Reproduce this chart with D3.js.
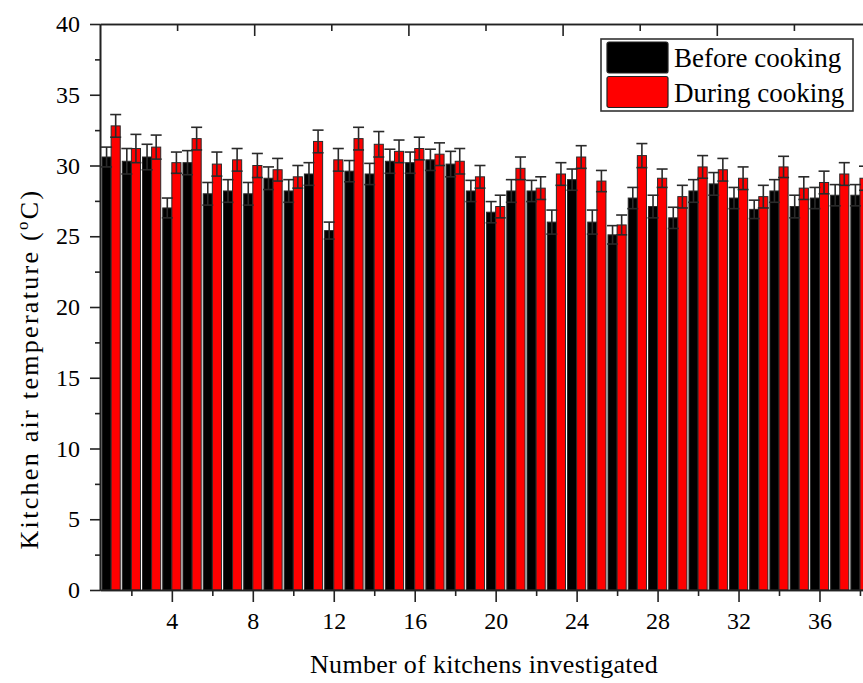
<!DOCTYPE html>
<html>
<head>
<meta charset="utf-8">
<script src="https://cdn.jsdelivr.net/npm/d3@7"></script>
<style>
  body { margin: 0; background: #fff; }
  svg { display: block; overflow: hidden; }
</style>
</head>
<body>
<svg width="863" height="683"></svg>
<script>
const kitchens = d3.range(1, 39);
const before = [30.6, 30.3, 30.6, 27.0, 30.2, 28.0, 28.2, 28.0, 29.1, 28.2, 29.4, 25.4, 29.6, 29.4, 30.3, 30.2, 30.4, 30.1, 28.2, 26.7,
  28.2, 28.2, 26.0, 29.0, 26.0, 25.1, 27.7, 27.1, 26.3, 28.2, 28.7, 27.7, 26.9, 28.2, 27.1, 27.7, 27.9, 27.9];
const during = [32.8, 31.2, 31.3, 30.2, 31.9, 30.1, 30.4, 30.0, 29.7, 29.2, 31.7, 30.4, 31.9, 31.5, 31.0, 31.2, 30.8, 30.3, 29.2, 27.1,
  29.8, 28.4, 29.4, 30.6, 28.9, 25.8, 30.7, 29.1, 27.8, 29.9, 29.7, 29.1, 27.8, 29.9, 28.4, 28.8, 29.4, 29.1];
const beforeErr = [0.7, 0.9, 0.9, 0.7, 0.85, 0.8, 0.8, 0.8, 0.8, 0.8, 0.8, 0.6, 0.75, 0.75, 0.85, 0.75, 0.75, 0.9, 0.75, 0.75,
  0.8, 0.75, 0.85, 0.75, 0.85, 0.65, 0.75, 0.8, 0.75, 0.8, 0.8, 0.75, 0.65, 0.8, 0.8, 0.75, 0.75, 0.75];
const duringErr = [0.8, 1.0, 0.85, 0.75, 0.8, 0.85, 0.8, 0.85, 0.8, 0.8, 0.8, 0.8, 0.8, 0.9, 0.8, 0.8, 0.8, 0.9, 0.8, 0.8,
  0.8, 0.8, 0.8, 0.8, 0.75, 0.7, 0.85, 0.65, 0.8, 0.8, 0.8, 0.8, 0.8, 0.75, 0.8, 0.8, 0.8, 0.85];
const series = ['Before cooking', 'During cooking'];
const colors = ['#000000', '#ff0000'];
const yTicks = [0, 5, 10, 15, 20, 25, 30, 35, 40];
const xTicks = [4, 8, 12, 16, 20, 24, 28, 32, 36];

const serif = '"Liberation Serif", "DejaVu Serif", serif';
const svg = d3.select('svg');
const x = d3.scaleLinear().domain([0.45, 38.15]).range([100, 863]);
const y = d3.scaleLinear().domain([0, 40]).range([590, 24]);
const bw = x(0.45) - x(0);

// rows: one per bar
const rows = [];
kitchens.forEach((k, i) => {
  rows.push({ k, s: 0, v: before[i], e: beforeErr[i] });
  rows.push({ k, s: 1, v: during[i], e: duringErr[i] });
});
const bx = (d) => (d.s === 0 ? x(d.k) - bw : x(d.k));

const plot = svg.append('g');
plot.selectAll('rect.bar')
  .data(rows)
  .join('rect')
  .attr('class', 'bar')
  .attr('x', bx)
  .attr('y', (d) => y(d.v))
  .attr('width', bw)
  .attr('height', (d) => y(0) - y(d.v))
  .attr('fill', (d) => colors[d.s])
  .attr('stroke', '#2a2a2a')
  .attr('stroke-width', 1);

// error bars
const err = plot.append('g').attr('stroke', '#2a2a2a').attr('stroke-width', 1.6);
const cx = (d) => bx(d) + bw / 2;
err.selectAll('line.v').data(rows).join('line')
  .attr('x1', cx).attr('x2', cx)
  .attr('y1', (d) => y(d.v + d.e)).attr('y2', (d) => y(d.v - d.e));
err.selectAll('line.t').data(rows).join('line')
  .attr('x1', (d) => cx(d) - 5.5).attr('x2', (d) => cx(d) + 5.5)
  .attr('y1', (d) => y(d.v + d.e)).attr('y2', (d) => y(d.v + d.e));
err.selectAll('line.b').data(rows).join('line')
  .attr('x1', (d) => cx(d) - 5.5).attr('x2', (d) => cx(d) + 5.5)
  .attr('y1', (d) => y(d.v - d.e)).attr('y2', (d) => y(d.v - d.e));

// axes
function styleAxis(g) {
  g.attr('font-family', null);
  g.select('.domain').attr('stroke', '#222').attr('stroke-width', 1.6);
  g.selectAll('.tick line').attr('stroke', '#222').attr('stroke-width', 1.6);
  g.selectAll('.tick text')
    .style('font-family', serif)
    .style('font-size', '24px')
    .attr('fill', '#000');
}

svg.append('g')
  .attr('transform', 'translate(100,0)')
  .call(d3.axisLeft(y).tickValues(d3.range(2.5, 40, 5)).tickSize(5).tickFormat('').tickSizeOuter(0))
  .call(styleAxis);
svg.append('g')
  .attr('transform', 'translate(100,0)')
  .call(d3.axisLeft(y).tickValues(yTicks).tickSize(10).tickPadding(10).tickSizeOuter(0))
  .call(styleAxis);

svg.append('g')
  .attr('transform', 'translate(0,590)')
  .call(d3.axisBottom(x).tickValues(d3.range(2, 39, 4)).tickSize(6).tickFormat('').tickSizeOuter(0))
  .call(styleAxis);
svg.append('g')
  .attr('transform', 'translate(0,590)')
  .call(d3.axisBottom(x).tickValues(xTicks).tickSize(12).tickPadding(10).tickSizeOuter(0))
  .call(styleAxis);

// top frame: its ticks sit on a slightly narrower spacing than the bottom axis
const xTop = d3.scaleLinear().domain([0, 10]).range([100, 100 + 10 * 77.1]);
svg.append('g')
  .attr('transform', 'translate(0,24)')
  .call(d3.axisTop(xTop).tickValues(d3.range(1, 10, 2)).tickSize(-7).tickFormat('').tickSizeOuter(0))
  .call(styleAxis);
svg.append('g')
  .attr('transform', 'translate(0,24)')
  .call(d3.axisTop(xTop).tickValues(d3.range(2, 11, 2)).tickSize(-12).tickFormat('').tickSizeOuter(0))
  .call(styleAxis);

// axis titles
svg.append('text')
  .attr('x', 484)
  .attr('y', 673)
  .attr('text-anchor', 'middle')
  .style('font-family', serif)
  .style('font-size', '26px')
  .style('letter-spacing', '0.3px')
  .text('Number of kitchens investigated');

const yt = svg.append('text')
  .attr('transform', 'translate(38,369) rotate(-90)')
  .attr('text-anchor', 'middle')
  .style('font-family', serif)
  .style('font-size', '26px')
  .style('letter-spacing', '2.3px');
yt.append('tspan').text('Kitchen air temperature (');
yt.append('tspan').attr('dy', -10).style('font-size', '17px').text('o');
yt.append('tspan').attr('dy', 10).text('C)');

// legend
const legend = svg.append('g');
legend.append('rect')
  .attr('x', 601).attr('y', 39).attr('width', 252).attr('height', 72)
  .attr('fill', '#fff').attr('stroke', '#333').attr('stroke-width', 1.6);
const li = legend.selectAll('g.item').data(series).join('g')
  .attr('transform', (d, i) => `translate(607,${42 + i * 34.5})`);
li.append('rect')
  .attr('width', 61).attr('height', 31).attr('rx', 2)
  .attr('fill', (d, i) => colors[i]).attr('stroke', '#222').attr('stroke-width', 1.2);
li.append('text')
  .attr('x', 67).attr('y', 25)
  .style('font-family', serif)
  .style('font-size', '27px')
  .text((d) => d);
</script>
</body>
</html>
